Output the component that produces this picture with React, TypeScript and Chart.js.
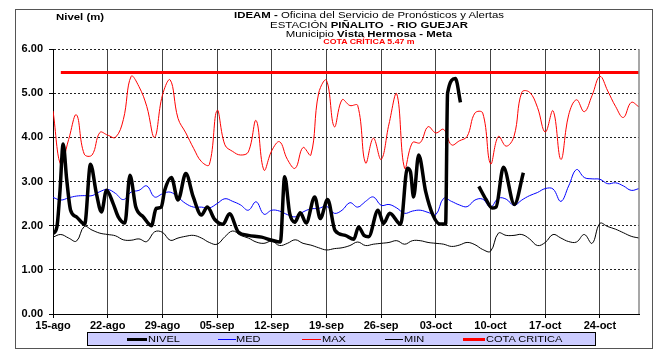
import React, { useEffect, useRef } from 'react';
import { Chart, registerables } from 'chart.js';

Chart.register(...registerables);

const FONT = '"Liberation Sans", Arial, Helvetica, sans-serif';

// ---- tick labels (weekly, starting 15-ago) ----
const xTickLabels = ['15-ago', '22-ago', '29-ago', '05-sep', '12-sep', '19-sep', '26-sep', '03-oct', '10-oct', '17-oct', '24-oct'];
const lastDay = 75; // 15-ago .. 29-oct

// ---- cota crítica ----
const cotaCritica = 5.47;
const cotaStartDay = 1;

// ---- daily historic series (day 0 = 15-ago) ----
const medValues = [
  2.64, 2.58, 2.63, 2.67, 2.68, 2.68, 2.77, 2.82, 2.73, 2.59,
  2.76, 2.80, 2.90, 2.65, 2.72, 2.76, 2.64, 2.50, 2.42, 2.42,
  2.40, 2.50, 2.61, 2.55, 2.47, 2.35, 2.54, 2.26, 2.35, 2.33,
  2.25, 2.20, 2.31, 2.38, 2.39, 2.44, 2.28, 2.35, 2.52, 2.42,
  2.55, 2.65, 2.46, 2.48, 2.40, 2.28, 2.33, 2.35, 2.30, 2.25,
  2.62, 2.55, 2.47, 2.43, 2.58, 2.60, 2.42, 2.62, 2.60, 2.46,
  2.58, 2.68, 2.75, 2.84, 2.83, 2.55, 2.90, 3.27, 3.09, 3.06,
  3.05, 2.95, 2.97, 2.90, 2.80, 2.84,
];

const maxValues = [
  4.60, 3.38, 3.95, 4.51, 3.62, 3.60, 4.11, 4.05, 4.00, 4.40,
  5.38, 5.15, 4.70, 4.00, 4.95, 5.30, 4.43, 4.10, 3.75, 3.45,
  3.38, 4.61, 3.83, 3.68, 3.60, 3.67, 4.38, 3.26, 3.70, 3.90,
  3.50, 3.30, 3.77, 3.60, 5.00, 5.29, 4.24, 4.85, 4.72, 4.72,
  3.42, 3.98, 3.50, 4.30, 4.98, 3.30, 3.88, 3.88, 4.24, 4.10,
  4.18, 3.83, 3.92, 4.02, 4.55, 4.55, 3.40, 4.02, 3.80, 4.02,
  5.02, 5.02, 4.68, 4.12, 4.60, 3.50, 4.51, 4.85, 4.58, 4.95,
  5.38, 5.05, 4.70, 4.45, 4.79, 4.69,
];

const minValues = [
  1.74, 1.80, 1.72, 1.65, 1.98, 1.90, 1.83, 1.80, 1.77, 1.68,
  1.67, 1.70, 1.64, 1.86, 1.85, 1.67, 1.72, 1.76, 1.78, 1.72,
  1.62, 1.58, 1.75, 1.88, 1.78, 1.72, 1.63, 1.60, 1.65, 1.55,
  1.60, 1.68, 1.60, 1.56, 1.50, 1.45, 1.48, 1.50, 1.55, 1.63,
  1.55, 1.58, 1.60, 1.62, 1.66, 1.58, 1.66, 1.66, 1.62, 1.60,
  1.58, 1.53, 1.56, 1.62, 1.57, 1.46, 1.42, 1.83, 1.78, 1.78,
  1.80, 1.70, 1.55, 1.62, 1.80, 1.72, 1.64, 1.63, 1.80, 1.60,
  2.05, 1.98, 1.92, 1.84, 1.76, 1.72,
];

// ---- observed level (several readings per day; null = no data) ----
const nivelDays = [
  0, 0.5, 0.9, 1.3, 1.75, 2.25, 3.0, 4.05, 4.8, 5.55,
  6.2, 6.85, 7.7, 8.35, 9.2, 9.85, 10.6, 11.55, 12.6, 13.2,
  13.85, 14.3, 15.15, 16.0, 17.0, 17.95, 19.0, 19.75, 20.7, 21.75,
  22.6, 23.7, 25.0, 26.7, 28.0, 29.1, 29.65, 30.3, 30.95, 31.65,
  32.4, 33.5, 34.2, 35.15, 36.1, 37.4, 38.5, 39.1, 39.8, 40.4,
  41.6, 42.3, 43.1, 44.5, 45.35, 45.75, 46.15, 46.8, 47.7, 48.6,
  49.5, 50.25, 50.5, 51.5, 52.15, 53.0,
  54.5, 55.4, 56.2, 56.7, 57.65, 59.05, 60.2,
];
const nivelValues = [
  1.82, 1.97, 2.80, 3.85, 3.05, 2.35, 2.20, 2.03, 3.39, 2.73,
  2.31, 2.80, 2.50, 2.20, 2.06, 3.14, 2.42, 2.20, 2.00, 2.39,
  2.42, 2.80, 3.09, 2.58, 3.18, 2.65, 2.24, 2.42, 2.14, 2.03,
  2.27, 1.86, 1.78, 1.74, 1.67, 1.63, 3.11, 2.27, 2.08, 2.29,
  2.06, 2.65, 2.16, 2.59, 1.89, 1.78, 1.69, 1.97, 1.78, 1.75,
  2.35, 2.05, 2.28, 2.03, 3.30, 3.22, 2.65, 3.60, 2.77, 2.25,
  2.04, 2.04, 5.00, 5.33, 4.79, null,
  2.89, 2.60, 2.40, 2.42, 3.32, 2.48, 3.20,
];

const rightEdge = {
  id: 'rightEdge',
  afterDatasetsDraw(chart: any) {
    const { ctx, chartArea } = chart;
    ctx.save();
    ctx.strokeStyle = '#8a8a8a';
    ctx.lineWidth = 1.5;
    ctx.beginPath();
    ctx.moveTo(chartArea.right, chartArea.top);
    ctx.lineTo(chartArea.right, chartArea.bottom);
    ctx.stroke();
    ctx.restore();
  },
};

const legendItems = [
  { label: 'NIVEL', color: '#000000', width: 3, lineLeft: 127, lineLen: 20, textLeft: 148 },
  { label: 'MED', color: '#0000ff', width: 1, lineLeft: 218, lineLen: 18, textLeft: 236 },
  { label: 'MAX', color: '#ff0000', width: 1, lineLeft: 302, lineLen: 19, textLeft: 322 },
  { label: 'MIN', color: '#000000', width: 1, lineLeft: 385, lineLen: 18, textLeft: 404 },
  { label: 'COTA CRITICA', color: '#ff0000', width: 3, lineLeft: 463, lineLen: 22, textLeft: 486 },
];

export default function App() {
  const canvasRef = useRef<HTMLCanvasElement | null>(null);

  useEffect(() => {
    if (!canvasRef.current) return;
    const daily = (vals: (number | null)[]) => vals.map((v, i) => ({ x: i, y: v }));
    const cotaValues = medValues.map((_, i) => (i >= cotaStartDay ? cotaCritica : null));
    const tickFont = { family: FONT, size: 11, weight: 'bold' as const };

    const chart = new Chart(canvasRef.current, {
      type: 'line',
      data: {
        datasets: [
          {
            label: 'NIVEL',
            data: nivelDays.map((d, i) => ({ x: d, y: nivelValues[i] })),
            borderColor: '#000000',
            borderWidth: 3.5,
            cubicInterpolationMode: 'monotone',
            spanGaps: false,
            pointRadius: 0,
          },
          { label: 'MED', data: daily(medValues), borderColor: '#0000ff', borderWidth: 1, tension: 0.4, pointRadius: 0 },
          { label: 'MAX', data: daily(maxValues), borderColor: '#ff0000', borderWidth: 1, tension: 0.4, pointRadius: 0 },
          { label: 'MIN', data: daily(minValues), borderColor: '#000000', borderWidth: 1, tension: 0.4, pointRadius: 0 },
          { label: 'COTA CRITICA', data: daily(cotaValues), borderColor: '#ff0000', borderWidth: 3, tension: 0, pointRadius: 0 },
        ],
      } as any,
      options: {
        responsive: false,
        animation: false,
        events: [],
        layout: { padding: { top: 49, right: 24, bottom: 17, left: 0 } },
        plugins: { legend: { display: false }, tooltip: { enabled: false }, title: { display: false } },
        scales: {
          x: {
            type: 'linear',
            min: 0,
            max: lastDay,
            afterFit: (s: any) => { s.height = 20; },
            ticks: {
              stepSize: 7,
              includeBounds: false,
              autoSkip: false,
              maxRotation: 0,
              minRotation: 0,
              padding: 1,
              color: '#000',
              font: tickFont,
              callback: (v: any) => xTickLabels[Math.round(Number(v) / 7)] ?? '',
            },
            grid: { color: '#444444', lineWidth: 1, tickLength: 4, tickColor: '#000', drawTicks: true },
            border: { color: '#000', width: 1 },
          },
          y: {
            min: 0,
            max: 6,
            afterFit: (s: any) => { s.width = 53; },
            ticks: {
              stepSize: 1,
              padding: 6,
              color: '#000',
              font: tickFont,
              callback: (v: any) => Number(v).toFixed(2),
            },
            grid: { color: '#222222', lineWidth: 1, tickLength: 4, tickColor: '#000', drawTicks: true },
            border: { color: '#000', width: 1, dash: [2, 2] },
          },
        },
      } as any,
      plugins: [rightEdge],
    });
    return () => chart.destroy();
  }, []);

  const titleBase: React.CSSProperties = {
    position: 'absolute',
    left: 169,
    width: 400,
    textAlign: 'center',
    whiteSpace: 'nowrap',
    fontFamily: FONT,
    color: '#000',
    transform: 'scaleX(1.2)',
  };

  return (
    <div style={{ position: 'fixed', left: 0, top: 0, width: 663, height: 351, background: '#fff', overflow: 'hidden', fontFamily: FONT }}>
      <canvas ref={canvasRef} width={663} height={351} style={{ position: 'absolute', left: 0, top: 0 }} />
      <div style={{ position: 'absolute', left: 15, top: 9, width: 638, height: 340, border: '1px solid #555', boxSizing: 'border-box', pointerEvents: 'none' }} />

      <div style={{ ...titleBase, top: 10, fontSize: 9.5, lineHeight: '10px' }}>
        <b>IDEAM -</b> Oficina del Servicio de Pronósticos y Alertas
      </div>
      <div style={{ ...titleBase, top: 19.5, fontSize: 9.5, lineHeight: '10px' }}>
        ESTACIÓN <b>PIÑALITO&nbsp; - RIO GUEJAR</b>
      </div>
      <div style={{ ...titleBase, top: 29, fontSize: 9.5, lineHeight: '10px' }}>
        Municipio <b>Vista Hermosa - Meta</b>
      </div>
      <div style={{ ...titleBase, top: 38.4, fontSize: 7.5, lineHeight: '8px', color: '#ff0000', fontWeight: 'bold', transform: 'scaleX(1.17)' }}>
        COTA CRÍTICA 5.47 m
      </div>
      <div style={{ position: 'absolute', left: 56, top: 11.8, fontSize: 9.5, lineHeight: '10px', fontWeight: 'bold', whiteSpace: 'nowrap', transform: 'scaleX(1.2)', transformOrigin: '0 0' }}>
        Nivel (m)
      </div>

      <div style={{ position: 'absolute', left: 87, top: 332, width: 509, height: 14, background: '#ccccff', border: '1px solid #000', boxSizing: 'border-box' }} />
      {legendItems.map((it) => (
        <React.Fragment key={it.label}>
          <div style={{ position: 'absolute', left: it.lineLeft, top: 339 - it.width / 2, width: it.lineLen, height: it.width, background: it.color }} />
          <div style={{ position: 'absolute', left: it.textLeft, top: 333, lineHeight: '12px', fontSize: 9.2, whiteSpace: 'nowrap', transform: 'scaleX(1.2)', transformOrigin: '0 0' }}>
            {it.label}
          </div>
        </React.Fragment>
      ))}
    </div>
  );
}
